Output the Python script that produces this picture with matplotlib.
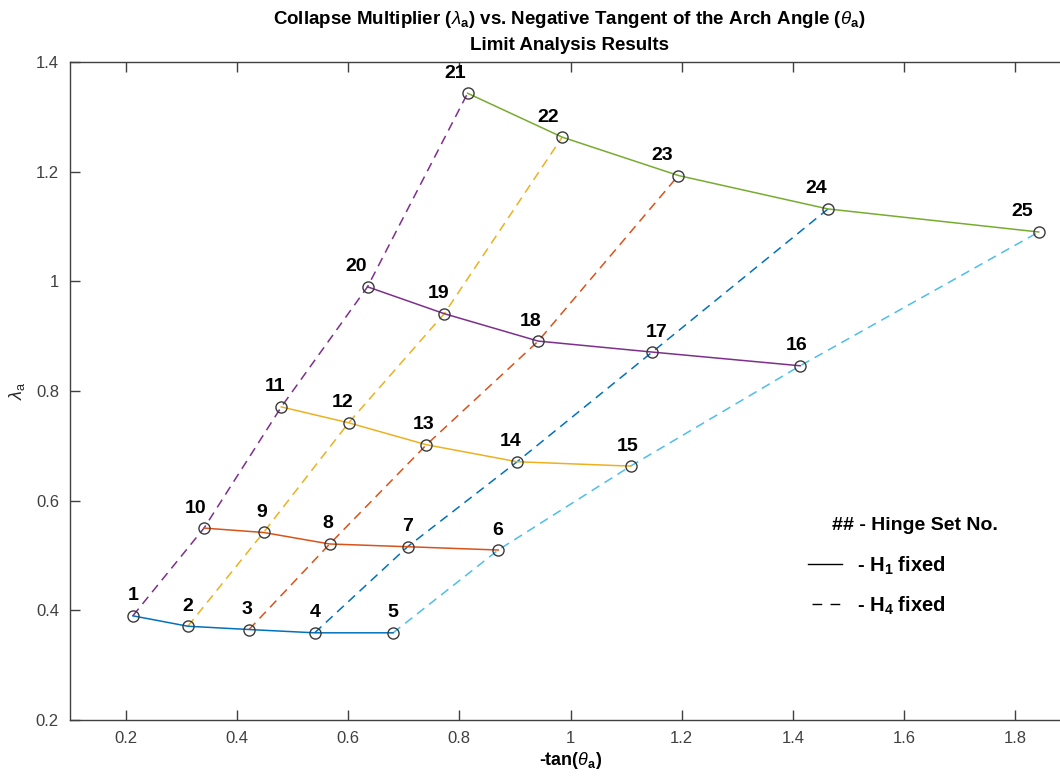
import numpy as np
import matplotlib
matplotlib.use("Agg")
import matplotlib.pyplot as plt

plt.rcParams['font.family'] = ['Liberation Sans', 'DejaVu Sans']
plt.rcParams['mathtext.fontset'] = 'custom'
plt.rcParams['mathtext.rm'] = 'Liberation Sans'
plt.rcParams['mathtext.it'] = 'Liberation Sans:italic'
plt.rcParams['mathtext.bf'] = 'Liberation Sans:bold'

# ---------------------------
# Datos (hinge sets 1..25)
# ---------------------------
set_no = np.arange(1, 26)
tan_a = np.array([0.213, 0.312, 0.422, 0.540, 0.681,
                  0.870, 0.707, 0.567, 0.448, 0.341,
                  0.480, 0.601, 0.741, 0.904, 1.108,
                  1.413, 1.147, 0.942, 0.773, 0.635,
                  0.815, 0.985, 1.194, 1.463, 1.842])
lam_a = np.array([0.390, 0.371, 0.365, 0.359, 0.359,
                  0.510, 0.516, 0.521, 0.542, 0.550,
                  0.771, 0.742, 0.702, 0.671, 0.663,
                  0.846, 0.871, 0.891, 0.941, 0.990,
                  1.343, 1.263, 1.193, 1.132, 1.090])

# H1 fixed (lineas continuas) y H4 fixed (lineas discontinuas), por numero de set
h1_groups = [[1, 2, 3, 4, 5], [6, 7, 8, 9, 10], [11, 12, 13, 14, 15],
             [16, 17, 18, 19, 20], [21, 22, 23, 24, 25]]
h4_groups = [[1, 10, 11, 20, 21], [2, 9, 12, 19, 22], [3, 8, 13, 18, 23],
             [4, 7, 14, 17, 24], [5, 6, 15, 16, 25]]

h1_colors = ['#0072BD', '#D95319', '#EDB120', '#7E2F8E', '#77AC30']
h4_colors = ['#7E2F8E', '#EDB120', '#D95319', '#0072BD', '#4DBEEE']

# desplazamiento horizontal de las etiquetas (pixeles)
label_dx = [0, 0, -2, 0, 0, -1, 0, -2, -2, -8, -6, -6, -3, -6, -3,
            -4, 4, -8, -6, -11, -12, -14, -16, -12, -17]

# ---------------------------
# Figura
# ---------------------------
W, H = 1060, 780
fig = plt.figure(figsize=(W/100, H/100), dpi=100)
ax = fig.add_axes([70/W, 1 - 720/H, (1071 - 70)/W, (720 - 62)/H])

axcol = '#404040'

for grp, c in zip(h4_groups, h4_colors):
    idx = np.array(grp) - 1
    ax.plot(tan_a[idx], lam_a[idx], '--', color=c, lw=1.1, dashes=(6, 4))

for grp, c in zip(h1_groups, h1_colors):
    idx = np.array(grp) - 1
    ax.plot(tan_a[idx], lam_a[idx], '-', color=c, lw=1.1)

ax.plot(tan_a, lam_a, 'o', ls='none', mfc='none', mec='#3a3a3a', ms=8, mew=1.0)

for i, n in enumerate(set_no):
    ax.annotate(str(n), (tan_a[i], lam_a[i]), xytext=(label_dx[i], 20),
                textcoords='offset pixels', ha='center', va='center',
                fontsize=14, fontweight='bold', color='black')

ax.set_xlim(0.1, 1.9)
ax.set_ylim(0.2, 1.4)
ax.set_xticks(np.arange(0.2, 1.81, 0.2))
ax.set_xticklabels(['0.2', '0.4', '0.6', '0.8', '1', '1.2', '1.4', '1.6', '1.8'])
ax.set_yticks(np.arange(0.2, 1.41, 0.2))
ax.set_yticklabels(['0.2', '0.4', '0.6', '0.8', '1', '1.2', '1.4'])

ax.tick_params(direction='in', length=7, width=1, colors=axcol, labelsize=12,
               top=True, right=True, pad=8)
for s in ax.spines.values():
    s.set_color(axcol)
    s.set_linewidth(1.0)

ax.set_xlabel(r'-tan($\theta_{\bf a}$)', fontsize=13, fontweight='bold',
              color='black', labelpad=3)
ax.set_ylabel(r'$\lambda_{\rm a}$', fontsize=13, color='#262626', labelpad=6)

fig.text(569/W, 1 - 20/H,
         r'Collapse Multiplier ($\lambda_{\bf a}$) vs. Negative Tangent of the Arch Angle ($\theta_{\bf a}$)',
         ha='center', va='center', fontsize=13.5, fontweight='bold', color='black')
fig.text(569/W, 1 - 46/H, 'Limit Analysis Results',
         ha='center', va='center', fontsize=13.5, fontweight='bold', color='black')

# Leyenda manual (coordenadas en pixeles de la figura)
fig.text(832/W, 1 - 525/H, '## - Hinge Set No.', fontsize=14,
         fontweight='bold', va='center', ha='left')
fig.add_artist(plt.Line2D([808/W, 842/W], [1 - 564/H, 1 - 564/H],
                          transform=fig.transFigure, color='black', lw=1.0))
fig.text(857/W, 1 - 566/H, r'- H$_{\bf 1}$ fixed', fontsize=14.5,
         fontweight='bold', va='center', ha='left')
fig.add_artist(plt.Line2D([812/W, 845/W], [1 - 604/H, 1 - 604/H],
                          transform=fig.transFigure, color='black', lw=1.0,
                          dashes=(7, 6)))
fig.text(857/W, 1 - 606/H, r'- H$_{\bf 4}$ fixed', fontsize=14.5,
         fontweight='bold', va='center', ha='left')

fig.savefig('out.png', dpi=100)
